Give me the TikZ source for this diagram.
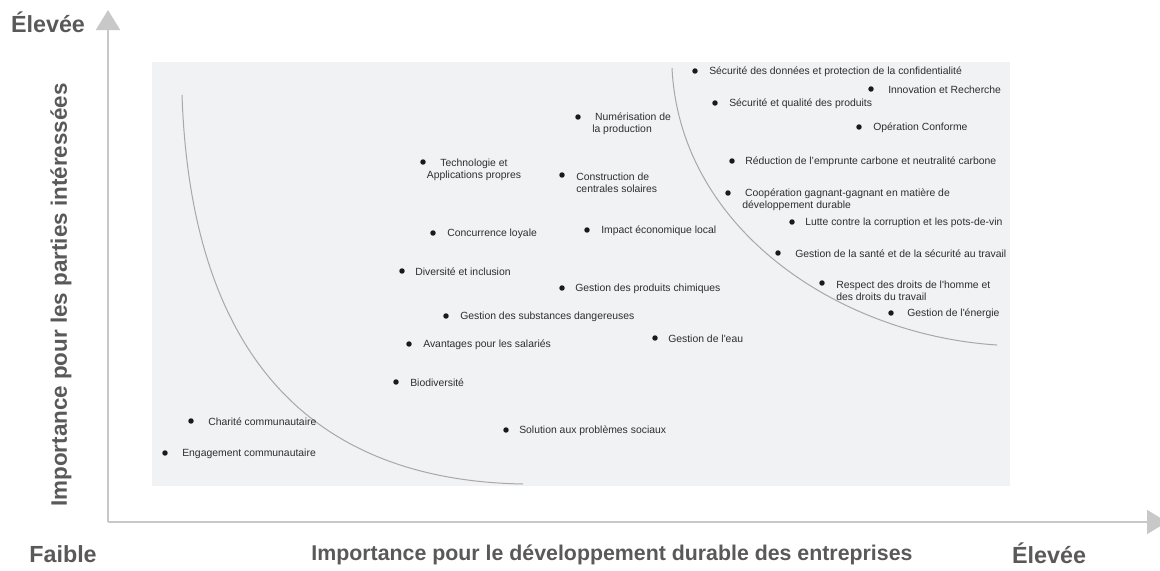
\documentclass[tikz,border=0pt]{standalone}
\usepackage{fontspec}
\setmainfont{Liberation Sans}
\usetikzlibrary{arrows.meta}
\definecolor{bgc}{HTML}{F1F2F4}
\definecolor{axisc}{HTML}{C8C8C8}
\definecolor{labc}{HTML}{595959}
\definecolor{curvec}{HTML}{A8A8A8}
\definecolor{txtc}{HTML}{2E2E2E}
\definecolor{dotc}{HTML}{1A1A1A}
\begin{document}
\begin{tikzpicture}[x=0.75pt,y=-0.75pt,
  dotn/.style={circle,fill=dotc,inner sep=0pt,minimum size=4.1pt},
  lbl/.style={anchor=west,inner sep=0pt,yshift=-0.8pt,font=\fontsize{7.8}{9}\selectfont,text=txtc,align=left},
  axislbl/.style={inner sep=0pt,font=\bfseries\fontsize{16}{19}\selectfont,text=labc},
  corner/.style={inner sep=0pt,font=\bfseries\fontsize{17.5}{21}\selectfont,text=labc},
  axisline/.style={draw=axisc,line width=1.5pt,-{Triangle[width=18pt,length=15pt,fill=axisc]}},
  curveline/.style={draw=curvec,line width=0.75pt}]
\useasboundingbox (0,0) rectangle (1160,571);
\fill[bgc] (152,62) rectangle (1010,486);
% axes
\coordinate (O) at (108,522);
\coordinate (YT) at (108,10);
\coordinate (XT) at (1167,522);
\draw[axisline] (O) -- (YT);
\draw[axisline] (O) -- (XT);
% curves
\coordinate (L0) at (182,95);
\coordinate (L1) at (523,484);
\draw[curveline] (L0) .. controls (190,330) and (290,480) .. (L1);
\coordinate (R0) at (672,68);
\coordinate (R1) at (997,345);
\draw[curveline] (R0) .. controls (680,230) and (840,335) .. (R1);
% axis labels
\node[corner] (hiY) at (48,22) {Élevée};
\node[corner] (lo) at (63,554) {Faible};
\node[corner] (hiX) at (1049,553) {Élevée};
\node[axislbl] (xl) at (612,555) {Importance pour le développement durable des entreprises};
\node[axislbl,rotate=90,font=\bfseries\fontsize{16.8}{19}\selectfont] (yl) at (61,295) {Importance pour les parties intéressées};
% items
\node[dotn] (b1) at (695,71) {};  \node[lbl] (t1) at (709,71) {Sécurité des données et protection de la confidentialité};
\node[dotn] (b2) at (871,89) {};  \node[lbl] (t2) at (888,89) {Innovation et Recherche};
\node[dotn] (b3) at (715,103) {}; \node[lbl] (t3) at (729,103) {Sécurité et qualité des produits};
\node[dotn] (b4) at (859,127) {}; \node[lbl] (t4) at (873,127) {Opération Conforme};
\node[dotn] (b5) at (732,161) {}; \node[lbl] (t5) at (745,161) {Réduction de l’emprunte carbone et neutralité carbone};
\node[dotn] (b6) at (728,193) {}; \node[lbl] (t6) at (742,199) {\ Coopération gagnant-gagnant en matière de\\développement durable};
\node[dotn] (b7) at (792,222) {}; \node[lbl] (t7) at (805,222) {Lutte contre la corruption et les pots-de-vin};
\node[dotn] (b8) at (778,253) {}; \node[lbl] (t8) at (795,253) {Gestion de la santé et de la sécurité au travail};
\node[dotn] (b9) at (822,283) {}; \node[lbl] (t9) at (836,289.5) {Respect des droits de l\textquotesingle homme et\\des droits du travail};
\node[dotn] (b10) at (891,313) {}; \node[lbl] (t10) at (907,313) {Gestion de l\textquotesingle énergie};
\node[dotn] (b11) at (655,338) {}; \node[lbl] (t11) at (668,338) {Gestion de l\textquotesingle eau};
\node[dotn] (b12) at (578,117) {}; \node[lbl] (t12) at (592,123) {\ Numérisation de\\la production};
\node[dotn] (b13) at (423,162) {}; \node[lbl,anchor=center,align=center] (t13) at (474,168.5) {Technologie et\\Applications propres};
\node[dotn] (b14) at (562,175) {}; \node[lbl] (t14) at (576,181.5) {Construction de\\centrales solaires};
\node[dotn] (b15) at (433,233) {}; \node[lbl] (t15) at (447,233) {Concurrence loyale};
\node[dotn] (b16) at (587,230) {}; \node[lbl] (t16) at (601,230) {Impact économique local};
\node[dotn] (b17) at (402,271) {}; \node[lbl] (t17) at (415,271) {Diversité et inclusion};
\node[dotn] (b18) at (562,288) {}; \node[lbl] (t18) at (575,288) {Gestion des produits chimiques};
\node[dotn] (b19) at (446,316) {}; \node[lbl] (t19) at (460,316) {Gestion des substances dangereuses};
\node[dotn] (b20) at (409,344) {}; \node[lbl] (t20) at (423,344) {Avantages pour les salariés};
\node[dotn] (b21) at (396,382) {}; \node[lbl] (t21) at (410,382) {Biodiversité};
\node[dotn] (b22) at (506,430) {}; \node[lbl] (t22) at (519,430) {Solution aux problèmes sociaux};
\node[dotn] (b23) at (191,421) {}; \node[lbl] (t23) at (208,421) {Charité communautaire};
\node[dotn] (b24) at (165,453) {}; \node[lbl] (t24) at (182,453) {Engagement communautaire};
\end{tikzpicture}
\end{document}
